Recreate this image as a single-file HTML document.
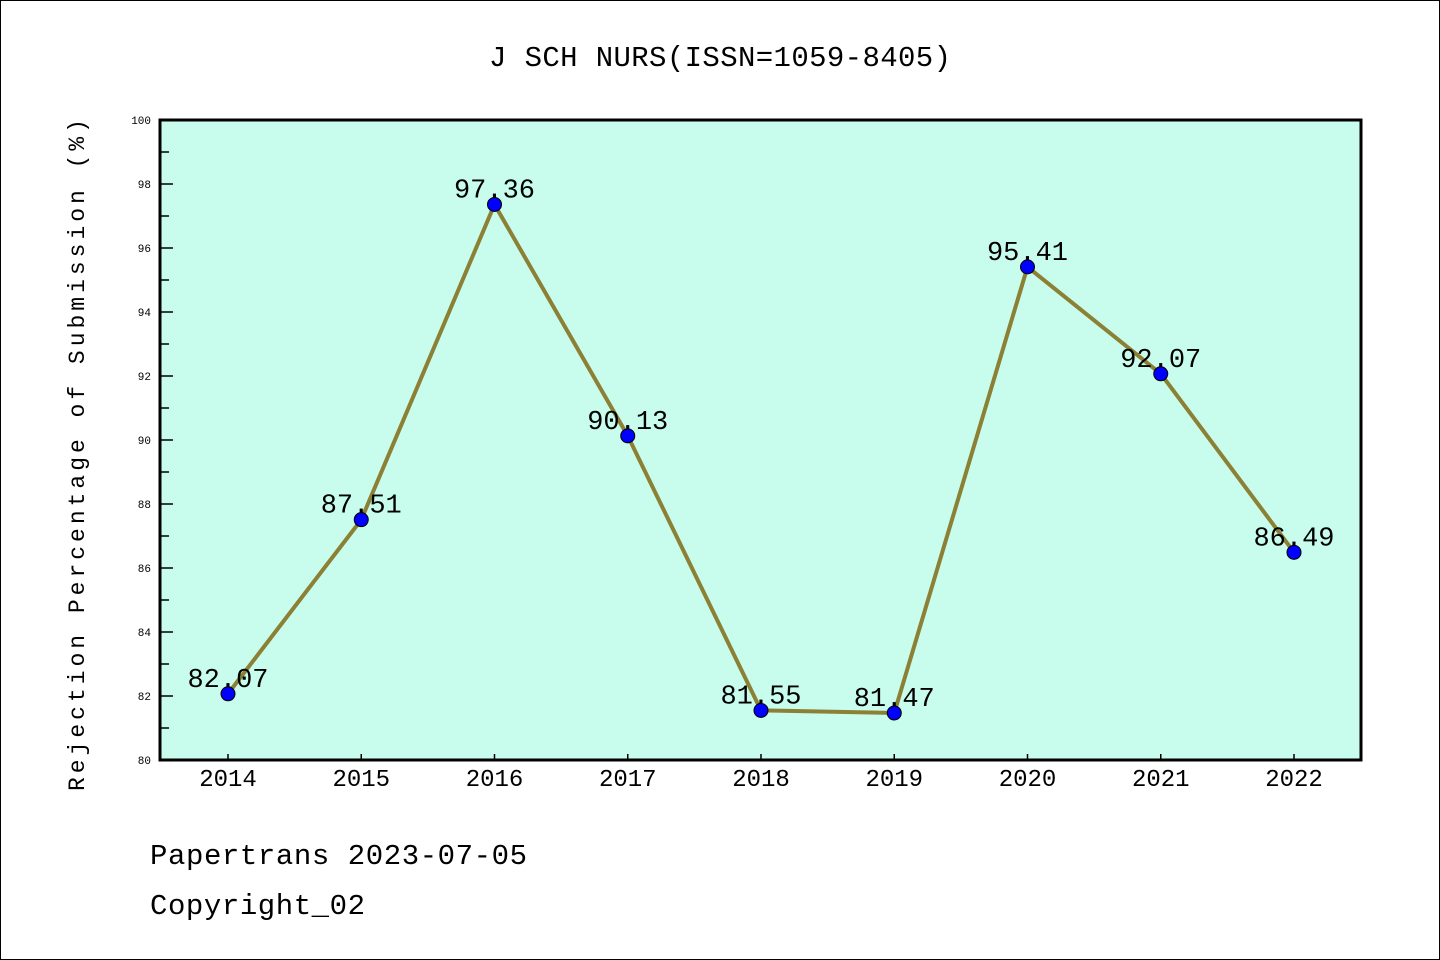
<!DOCTYPE html>
<html><head><meta charset="utf-8"><style>body{margin:0;background:#fff}svg{display:block}text{font-family:"Liberation Mono","DejaVu Sans Mono",monospace}</style></head>
<body>
<svg id="c" width="1440" height="960">
<rect x="0.5" y="0.5" width="1439" height="959" fill="#fff" stroke="#000"/>
<text x="720" y="66" text-anchor="middle" font-size="29" textLength="462">J SCH NURS(ISSN=1059-8405)</text>
<rect x="160" y="120" width="1201" height="640" fill="#c8fced"/>
<g id="ax"></g>
<rect x="160" y="120" width="1201" height="640" fill="none" stroke="#000" stroke-width="3"/>
<text transform="translate(84,455) rotate(-90)" text-anchor="middle" font-size="23" textLength="672">Rejection Percentage of Submission (%)</text>
<text x="150" y="864" font-size="29" textLength="377">Papertrans 2023-07-05</text>
<text x="150" y="914" font-size="29" textLength="215">Copyright_02</text>
</svg>
<script>
const years=["2014","2015","2016","2017","2018","2019","2020","2021","2022"];
const values=[82.07,87.51,97.36,90.13,81.55,81.47,95.41,92.07,86.49];
const labels=["82.07","87.51","97.36","90.13","81.55","81.47","95.41","92.07","86.49"];
const yTicks=[80,82,84,86,88,90,92,94,96,98,100];
const NS="http://www.w3.org/2000/svg",g=document.getElementById('ax');
const X=i=>228+i*(1294-228)/(years.length-1);
const Y=v=>760-(v-80)*32;
function mk(t,a,p){const e=document.createElementNS(NS,t);for(const k in a)e.setAttribute(k,a[k]);(p||g).appendChild(e);return e;}
for(let v=80;v<=100;v++){const major=v%2===0;
const l=mk('line',{x1:160,x2:160+(major?13:9),y1:Y(v),y2:Y(v),stroke:'#000','stroke-width':1.5});
}
yTicks.forEach(v=>{const t=mk('text',{x:151,y:Y(v)+4,'text-anchor':'end','font-size':11});t.textContent=v;
});
years.forEach((y,i)=>{const l=mk('line',{x1:X(i),x2:X(i),y1:760,y2:754,stroke:'#000','stroke-width':1.5});

const t=mk('text',{x:X(i),y:786,'text-anchor':'middle','font-size':24});t.textContent=y;
});
const pl=mk('polyline',{points:values.map((v,i)=>X(i)+','+Y(v)).join(' '),fill:'none',stroke:'#8b8034','stroke-width':4});

values.forEach((v,i)=>{const c=mk('circle',{cx:X(i),cy:Y(v),r:7,fill:'#0000ff',stroke:'#000','stroke-width':1});

const t=mk('text',{x:X(i),y:Y(v)-7,'text-anchor':'middle','font-size':27});t.textContent=labels[i];
});
</script>
</body></html>
